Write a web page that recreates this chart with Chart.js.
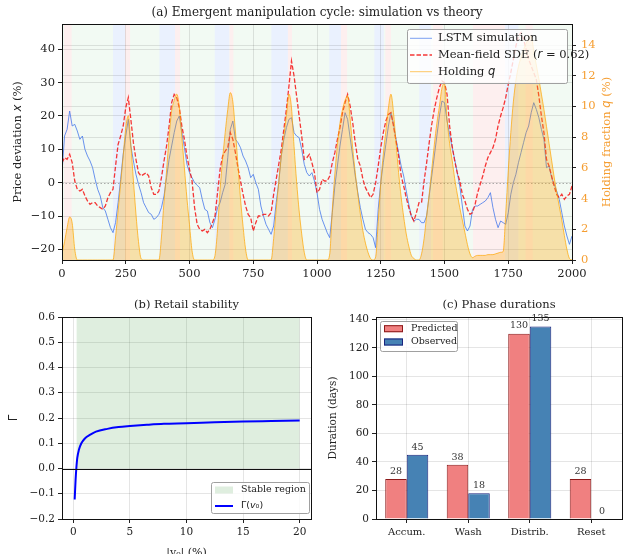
<!DOCTYPE html>
<html>
<head>
<meta charset="utf-8">
<script src="https://cdn.jsdelivr.net/npm/chart.js@4.4.1/dist/chart.umd.min.js"></script>
<style>
  html, body { margin: 0; padding: 0; overflow: hidden; background: #fff; }
  body { width: 624px; height: 554px; position: relative; }
  .panel { position: absolute; }
</style>
</head>
<body>
<div class="panel" style="left:0;top:0;width:624px;height:292px"><canvas id="cycle"></canvas></div>
<div class="panel" style="left:0;top:292px;width:320px;height:280px"><canvas id="stability"></canvas></div>
<div class="panel" style="left:320px;top:292px;width:304px;height:280px"><canvas id="phases"></canvas></div>
<script>
const SERIF = "'DejaVu Serif', serif";
const SANS = "'DejaVu Sans', sans-serif";
const GRID = "rgba(0,0,0,0.1)";
const ORANGE = "rgb(245,158,50)";
Chart.defaults.font.family = SERIF;
Chart.defaults.color = "#222";
Chart.defaults.animation = false;

// ---- (a) manipulation cycle, one sample every 10 steps ----
const steps = [];
for (let t = 0; t <= 2000; t += 10) steps.push(t);

const lstmSim = [
  3, 14, 16, 21.5, 17, 17.5, 15.5, 13, 14, 10,
  8, 6.5, 4.5, 1, -2, -4, -7.5, -8.5, -11, -13.5,
  -15, -12, -6, 1, 8.5, 14, 19, 11, 6.5, 2.5,
  -0.5, -3, -6, -7.5, -9, -9.5, -11, -10.5, -9.5, -7.5,
  -4, 1.5, 7, 11, 15, 18.5, 20, 15, 10.5, 5.5,
  3, 1.5, 0, -0.8, -1.5, -5, -8, -8.5, -12, -13.5,
  -11, -7.5, -6, -3, -0.5, 7.5, 16, 18.5, 13, 12,
  10.5, 8, 6.5, 4.5, 1.5, 2.5, 0, -2, -7, -10,
  -12.5, -14, -15.5, -13, -6, 0, 8, 13, 16.5, 19,
  19.5, 15, 14, 13.5, 10, 5.5, 3, 2, 3, 0.5,
  -3, -8, -11, -13, -15, -16.5, -9, -1, 5, 11,
  16, 21, 19, 13.5, 8, 2, -3, -7.5, -11, -14,
  -15, -15.5, -16.5, -19.5, -8, 0, 6, 11.5, 17, 21,
  17.5, 13, 9, 5, 2, -2.5, -6.5, -10, -11.5, -11,
  -11, -12, -12, -10, -4, 2, 8, 14, 20, 24.5,
  24, 18.5, 14.5, 10.5, 7, 3, -1, -7, -13, -14.5,
  -13, -8, -7, -7, -6.5, -6, -5.5, -4.5, -3, -7.5,
  -11, -13.5, -11.5, -12, -12.5, -9, -3.5, 0, 2.5, 6,
  9, 12, 15, 17, 21, 24, 22, 19.5, 16, 13,
  4.5, 5, 1.5, -0.5, -2.5, -5, -9, -13, -16, -18.5,
  -16
];

const sdeMean = [
  6, 7.5, 7, 8.5, 6, 0.5, -2, -2.5, -2, -4,
  -5.5, -6.5, -6, -6, -7, -7.5, -8, -7, -4.5, -3,
  -2, 5, 11.5, 14, 17, 22.5, 25.5, 19, 12, 7,
  3, 2, 2.5, 3, 2, -1.5, -3.5, -3.5, -2.5, 1.5,
  6.5, 11, 17, 24, 26.5, 25.5, 22.5, 17, 13, 8,
  4, 0.5, -7.5, -12.5, -14, -14.5, -14, -15, -14, -12,
  -10, -3, 4, 8, 9.5, 10.5, 15, 13, 9, 4.5,
  0.5, -3.5, -7, -9.5, -10.5, -14.5, -12, -10, -10, -9.5,
  -9.5, -10, -9, -3.5, 1, 5.5, 10, 16, 22, 29,
  36.5, 32, 26, 20, 14, 7, 7.5, 8.5, 6, 3,
  -3, -2, 1, 0.5, 0.5, 2, 6, 9, 13, 16.5,
  21, 24, 26.5, 23, 18, 12, 7, 5, 1, -1.5,
  -3, -4.5, -3.5, 0, 5, 10.5, 15, 18.5, 20.5, 21,
  17, 12.5, 8, 2, -1, -4.5, -7.5, -10, -11.5, -9,
  -6, -6, 0.5, 6, 12, 17.5, 22, 25.5, 28.5, 30.5,
  30, 26.5, 17, 11, 6.5, 3, 0.5, -3.5, -5.5, -8,
  -9.5, -9, -6.5, -3, -0.5, 2, 5, 7.5, 9, 10.5,
  13, 17, 20, 22.5, 25.5, 29.5, 33, 37, 41, 44,
  45, 43, 40, 37, 35, 33, 31, 26, 20, 15,
  7, 5, 2, -1, -3.5, -4.5, -3.5, -5, -4, -3.5,
  -1
];

const holdingQ = [
  0.4, 1.2, 2.1, 2.8, 2.4, 0.7, 0, 0, 0, 0,
  0, 0, 0, 0, 0, 0, 0, 0, 0, 0,
  0, 1.5, 3.2, 5.0, 6.8, 8.6, 9.4, 7.5, 5.2, 3.0,
  1.2, 0.1, 0, 0, 0, 0, 0, 0, 0, 1.5,
  3.8, 5.8, 8.0, 9.7, 10.4, 10.8, 10.0, 8.0, 6.0, 4.0,
  2.3, 0.6, 0, 0, 0, 0, 0, 0, 0, 0,
  0.3, 2.0, 4.6, 6.6, 8.3, 9.8, 10.9, 10.3, 8.4, 6.2,
  4.0, 2.2, 0.7, 0, 0, 0, 0, 0, 0, 0,
  0, 0, 0, 1.4, 3.3, 5.1, 6.8, 8.1, 9.4, 10.8,
  9.9, 7.4, 5.1, 3.2, 1.7, 0.5, 0, 0, 0, 0,
  0, 0, 0, 0, 0, 0.4, 3.3, 5.6, 7.5, 8.9,
  9.8, 10.4, 10.7, 9.2, 7.3, 5.7, 4.3, 3.0, 1.9, 1.1,
  0.5, 0.1, 0, 0.2, 2.5, 5.0, 6.9, 8.4, 9.9, 10.8,
  9.6, 7.6, 5.7, 4.1, 2.8, 1.7, 0.9, 0.3, 0.1, 0,
  0, 0.4, 1.4, 2.9, 4.3, 5.9, 7.5, 8.9, 10.0, 11.2,
  11.5, 9.2, 7.6, 6.5, 5.3, 4.3, 3.4, 2.6, 1.8, 1.0,
  0.4, 0.15, 0.25, 0.3, 0.3, 0.3, 0.3, 0.35, 0.35, 0.35,
  0.4, 0.45, 0.5, 0.55, 3.0, 5.8, 8.3, 10.3, 11.7, 12.6,
  13.2, 13.7, 14.1, 14.4, 14.6, 13.6, 12.7, 11.8, 10.8, 9.8,
  8.7, 7.6, 6.5, 5.4, 4.4, 3.5, 2.6, 1.6, 0.7, 0.1,
  0
];

// shaded phases: a = accumulation, d = distribution
const phaseStart = [8, 200, 247, 382, 443, 599, 657, 821, 886, 1048, 1094, 1225, 1268, 1401, 1455, 1612, 1737, 1818];
const phaseEnd   = [38, 247, 267, 443, 463, 657, 672, 886, 902, 1094, 1118, 1262, 1290, 1447, 1493, 1737, 1790, 1846];
const phaseKind  = ["d", "a", "d", "a", "d", "a", "d", "a", "d", "a", "d", "a", "d", "a", "d", "d", "a", "d"];

// ---- (b) retail stability ----
const v0 = [0.12, 0.2, 0.27, 0.35, 0.5, 0.7, 1, 1.5, 2, 3, 4, 5, 6.5, 8, 10, 12.5, 15, 17.5, 20];
const gamma = [-0.123, -0.045, 0.003, 0.042, 0.075, 0.099, 0.118, 0.134, 0.146, 0.157, 0.164, 0.168, 0.173, 0.177, 0.179, 0.183, 0.186, 0.188, 0.19];
const stableFrom = 0.27;
const stableTo = 20;
const stableTop = 0.6;

// ---- (c) phase durations ----
const phaseNames = ["Accum.", "Wash", "Distrib.", "Reset"];
const predictedDays = [28, 38, 130, 28];
const observedDays = [45, 18, 135, 0];

const minus = (s) => String(s).replace("-", "\u2212");
const asPoints = (xs, ys) => ys.map((y, i) => ({ x: xs[i], y }));

// text runs: r = serif, m = math italic, s = upright sans
function runFont(kind, size) {
  if (kind === "m") return `italic ${size}px ${SANS}`;
  if (kind === "s") return `${size}px ${SANS}`;
  return `${size}px ${SERIF}`;
}
function drawRuns(ctx, runs, x, y, size, color, center) {
  let w = 0;
  runs.forEach(([t, k]) => { ctx.font = runFont(k, size); w += ctx.measureText(t).width; });
  let cx = center ? x - w / 2 : x;
  ctx.fillStyle = color;
  ctx.textAlign = "left";
  ctx.textBaseline = "middle";
  runs.forEach(([t, k]) => {
    ctx.font = runFont(k, size);
    ctx.fillText(t, cx, y);
    cx += ctx.measureText(t).width;
  });
}

const backdrop = {
  id: "backdrop",
  beforeDraw(chart, args, o) {
    if (!o.base) return;
    const { ctx, chartArea: a, scales: { x } } = chart;
    ctx.save();
    ctx.fillStyle = o.base;
    ctx.fillRect(a.left, a.top, a.width, a.height);
    o.start.forEach((s, i) => {
      const x0 = Math.max(x.getPixelForValue(s), a.left);
      const x1 = Math.min(x.getPixelForValue(o.end[i]), a.right);
      ctx.fillStyle = o.colors[o.kind[i]];
      ctx.fillRect(x0, a.top, x1 - x0, a.height);
    });
    ctx.restore();
  }
};

function strokeZero(chart, o) {
  const { ctx, chartArea: a, scales } = chart;
  const y = Math.round(scales[o.axis || "y"].getPixelForValue(0)) + 0.5;
  ctx.save();
  ctx.strokeStyle = o.color;
  ctx.lineWidth = o.width || 1;
  ctx.setLineDash(o.dash || []);
  ctx.beginPath();
  ctx.moveTo(a.left, y);
  ctx.lineTo(a.right, y);
  ctx.stroke();
  ctx.restore();
}
const zeroLine = {
  id: "zeroLine",
  beforeDatasetsDraw(chart, args, o) { if (o.color && !o.onTop) strokeZero(chart, o); },
  afterDatasetsDraw(chart, args, o) { if (o.color && o.onTop) strokeZero(chart, o); }
};

const frame = {
  id: "frame",
  afterDatasetsDraw(chart) {
    const { ctx, chartArea: a } = chart;
    ctx.save();
    ctx.strokeStyle = "#111";
    ctx.lineWidth = 1;
    ctx.strokeRect(Math.round(a.left) + 0.5, Math.round(a.top) + 0.5,
      Math.round(a.right) - Math.round(a.left), Math.round(a.bottom) - Math.round(a.top));
    ctx.restore();
  }
};

const barValues = {
  id: "barValues",
  afterDatasetsDraw(chart, args, o) {
    if (!o.show) return;
    const { ctx } = chart;
    ctx.save();
    ctx.font = `${o.size}px ${SERIF}`;
    ctx.fillStyle = "#333";
    ctx.textAlign = "center";
    ctx.textBaseline = "bottom";
    chart.data.datasets.forEach((ds, i) => {
      chart.getDatasetMeta(i).data.forEach((bar, j) => {
        ctx.fillText(String(ds.data[j]), bar.x, bar.y - 3);
      });
    });
    ctx.restore();
  }
};

const sideTitles = {
  id: "sideTitles",
  afterDraw(chart, args, o) {
    if (!o.items) return;
    const { ctx, chartArea: a } = chart;
    const cy = (a.top + a.bottom) / 2;
    o.items.forEach((it) => {
      ctx.save();
      ctx.translate(it.x, cy);
      ctx.rotate(-Math.PI / 2);
      drawRuns(ctx, it.runs, 0, 0, o.size, it.color, true);
      ctx.restore();
    });
  }
};

const boxLegend = {
  id: "boxLegend",
  afterDraw(chart, args, o) {
    if (!o.items) return;
    const { ctx, chartArea: a } = chart;
    const x = o.right ? a.right - o.dx - o.width : a.left + o.dx;
    const y = o.bottom ? a.bottom - o.dy - o.height : a.top + o.dy;
    ctx.save();
    ctx.beginPath();
    ctx.roundRect(x + 0.5, y + 0.5, o.width, o.height, 2);
    ctx.fillStyle = "rgba(255,255,255,0.8)";
    ctx.fill();
    ctx.strokeStyle = "#a0a0a0";
    ctx.lineWidth = 1;
    ctx.stroke();
    o.items.forEach((it, i) => {
      const cy = y + o.rowTop + i * o.rowGap;
      const sx = x + o.pad;
      if (it.patch) {
        ctx.fillStyle = it.patch;
        ctx.fillRect(sx, cy - o.patchH / 2, o.sample, o.patchH);
        if (it.edge) {
          ctx.strokeStyle = it.edge;
          ctx.lineWidth = 1;
          ctx.strokeRect(sx + 0.5, cy - o.patchH / 2 + 0.5, o.sample - 1, o.patchH - 1);
        }
      } else {
        ctx.strokeStyle = it.line;
        ctx.lineWidth = it.width || 1;
        ctx.setLineDash(it.dash || []);
        ctx.beginPath();
        ctx.moveTo(sx, cy);
        ctx.lineTo(sx + o.sample, cy);
        ctx.stroke();
        ctx.setLineDash([]);
      }
      drawRuns(ctx, it.runs, sx + o.sample + o.gap, cy, o.size, "#222", false);
    });
    ctx.restore();
  }
};

Chart.register(backdrop, zeroLine, frame, barValues, sideTitles, boxLegend);

const tickGrid = { color: GRID, tickColor: "#222", tickLength: 4 };

// (a) simulation vs theory
new Chart(document.getElementById("cycle"), {
  type: "line",
  data: {
    datasets: [
      {
        label: "Holding q",
        data: asPoints(steps, holdingQ),
        yAxisID: "yq",
        order: 0,
        borderColor: "rgba(255,165,0,0.7)",
        borderWidth: 1,
        backgroundColor: "rgba(255,165,0,0.3)",
        fill: "origin",
        pointRadius: 0,
        cubicInterpolationMode: "monotone"
      },
      {
        label: "Mean-field SDE",
        data: asPoints(steps, sdeMean),
        yAxisID: "y",
        order: 1,
        borderColor: "rgba(245,20,20,0.85)",
        borderWidth: 1.3,
        borderDash: [4.5, 2],
        pointRadius: 0,
        fill: false
      },
      {
        label: "LSTM simulation",
        data: asPoints(steps, lstmSim),
        yAxisID: "y",
        order: 2,
        borderColor: "rgba(70,120,235,0.8)",
        borderWidth: 1,
        pointRadius: 0,
        fill: false
      }
    ]
  },
  options: {
    responsive: true,
    maintainAspectRatio: false,
    layout: { padding: 0 },
    plugins: {
      legend: { display: false },
      tooltip: { enabled: false },
      title: {
        display: true,
        text: "(a) Emergent manipulation cycle: simulation vs theory",
        font: { size: 12, weight: "normal" },
        padding: { top: 6.1, bottom: 3.5 },
        fullSize: false,
        color: "#222"
      },
      backdrop: {
        base: "rgb(242,250,243)",
        colors: { a: "rgb(234,241,254)", d: "rgb(253,239,239)" },
        start: phaseStart,
        end: phaseEnd,
        kind: phaseKind
      },
      zeroLine: { color: "rgba(120,120,120,0.6)", width: 1, dash: [1.5, 2] },
      sideTitles: {
        size: 11.5,
        items: [
          { x: 18, color: "#222", runs: [["Price deviation ", "r"], ["x", "m"], [" (%)", "r"]] },
          { x: 607, color: ORANGE, runs: [["Holding fraction ", "r"], ["q", "m"], [" (%)", "r"]] }
        ]
      },
      boxLegend: {
        right: true, dx: 5, dy: 5, width: 160, height: 54,
        rowTop: 9.3, rowGap: 16.7, pad: 3, sample: 22, gap: 6, size: 11.5,
        items: [
          { line: "rgba(70,120,235,0.7)", runs: [["LSTM simulation", "r"]] },
          { line: "rgba(245,20,20,0.85)", width: 1.3, dash: [4.5, 2], runs: [["Mean-field SDE (", "r"], ["r", "m"], [" = 0.62)", "r"]] },
          { line: "rgba(255,165,0,0.6)", runs: [["Holding ", "r"], ["q", "m"]] }
        ]
      }
    },
    scales: {
      x: {
        type: "linear", min: 0, max: 2000,
        ticks: { stepSize: 250, includeBounds: false, font: { size: 11.5 }, padding: 3, maxRotation: 0, callback: (v) => String(v) },
        grid: tickGrid,
        border: { display: false },
        afterFit: (s) => { s.height = 32; }
      },
      y: {
        position: "left", min: -23.2, max: 47.6,
        ticks: { stepSize: 10, includeBounds: false, font: { size: 11.5 }, padding: 3, callback: (v) => minus(v) },
        grid: tickGrid,
        border: { display: false },
        afterFit: (s) => { s.width = 62; }
      },
      yq: {
        position: "right", min: 0, max: 15.37,
        ticks: { stepSize: 2, includeBounds: false, font: { size: 11.5 }, padding: 5, color: ORANGE },
        grid: tickGrid,
        border: { display: false },
        afterFit: (s) => { s.width = 52; }
      }
    }
  }
});

// (b) retail stability
new Chart(document.getElementById("stability"), {
  type: "line",
  data: {
    datasets: [
      {
        label: "\u0393(v0)",
        data: asPoints(v0, gamma),
        borderColor: "#0000ff",
        borderWidth: 2,
        pointRadius: 0,
        cubicInterpolationMode: "monotone",
        fill: false,
        order: 0
      },
      {
        label: "Stable region",
        data: [{ x: stableFrom, y: stableTop }, { x: stableTo, y: stableTop }],
        borderWidth: 0,
        borderColor: "rgba(0,0,0,0)",
        backgroundColor: "rgba(40,140,40,0.15)",
        fill: "origin",
        pointRadius: 0,
        order: 1
      }
    ]
  },
  options: {
    responsive: true,
    maintainAspectRatio: false,
    layout: { padding: { left: 0, right: 9, top: 0, bottom: 0 } },
    plugins: {
      legend: { display: false },
      tooltip: { enabled: false },
      title: {
        display: true,
        text: "(b) Retail stability",
        font: { size: 11.5, weight: "normal" },
        padding: { top: 6.1, bottom: 5.1 },
        fullSize: false,
        color: "#222"
      },
      zeroLine: { color: "#111", width: 1, onTop: true },
      boxLegend: {
        right: true, bottom: true, dx: 2, dy: 6, width: 98, height: 31,
        rowTop: 8, rowGap: 16, pad: 4, sample: 18, gap: 8, size: 9.5, patchH: 7,
        items: [
          { patch: "rgba(40,140,40,0.15)", runs: [["Stable region", "r"]] },
          { line: "#0000ff", width: 2, runs: [["\u0393(", "s"], ["v", "m"], ["\u2080)", "s"]] }
        ]
      }
    },
    scales: {
      x: {
        type: "linear", min: -1, max: 21,
        ticks: { stepSize: 5, includeBounds: false, font: { size: 10.5 }, padding: 3, maxRotation: 0 },
        grid: tickGrid,
        border: { display: false },
        title: { display: true, text: "|v\u2080| (%)", font: { size: 11 }, padding: { top: 0, bottom: 12.4 } },
        afterFit: (s) => { s.height = 53; }
      },
      y: {
        min: -0.2, max: 0.6,
        ticks: { stepSize: 0.1, includeBounds: false, font: { size: 10.5 }, padding: 3, callback: (v) => minus(v.toFixed(1)) },
        grid: tickGrid,
        border: { display: false },
        title: { display: true, text: "\u0393", font: { family: SANS, size: 12 }, padding: { top: 6.4, bottom: 0 } },
        afterFit: (s) => { s.width = 62; }
      }
    }
  }
});

// (c) phase durations
new Chart(document.getElementById("phases"), {
  type: "bar",
  data: {
    labels: phaseNames,
    datasets: [
      {
        label: "Predicted",
        data: predictedDays,
        backgroundColor: "#f08080",
        borderColor: "#8b1a1a",
        borderWidth: 1,
        categoryPercentage: 0.7,
        barPercentage: 1
      },
      {
        label: "Observed",
        data: observedDays,
        backgroundColor: "#4682b4",
        borderColor: "#1a237e",
        borderWidth: 1,
        categoryPercentage: 0.7,
        barPercentage: 1
      }
    ]
  },
  options: {
    responsive: true,
    maintainAspectRatio: false,
    layout: { padding: { left: 0, right: 2, top: 0, bottom: 0 } },
    plugins: {
      legend: { display: false },
      tooltip: { enabled: false },
      title: {
        display: true,
        text: "(c) Phase durations",
        font: { size: 11.5, weight: "normal" },
        padding: { top: 6.1, bottom: 5.1 },
        fullSize: false,
        color: "#222"
      },
      barValues: { show: true, size: 9.5 },
      boxLegend: {
        dx: 4, dy: 4, width: 77, height: 30,
        rowTop: 7.7, rowGap: 13.3, pad: 4, sample: 19, gap: 8, size: 9.5, patchH: 7,
        items: [
          { patch: "#f08080", edge: "#8b1a1a", runs: [["Predicted", "r"]] },
          { patch: "#4682b4", edge: "#1a237e", runs: [["Observed", "r"]] }
        ]
      }
    },
    scales: {
      x: {
        ticks: { font: { size: 10 }, padding: 3, maxRotation: 0 },
        grid: { ...tickGrid, offset: false },
        border: { display: false },
        afterFit: (s) => { s.height = 53; }
      },
      y: {
        min: 0, max: 141.75,
        ticks: { stepSize: 20, includeBounds: false, font: { size: 10.5 }, padding: 3 },
        grid: tickGrid,
        border: { display: false },
        title: { display: true, text: "Duration (days)", font: { size: 10.5 }, padding: { top: 7.4, bottom: 0 } },
        afterFit: (s) => { s.width = 56; }
      }
    }
  }
});
</script>
</body>
</html>
